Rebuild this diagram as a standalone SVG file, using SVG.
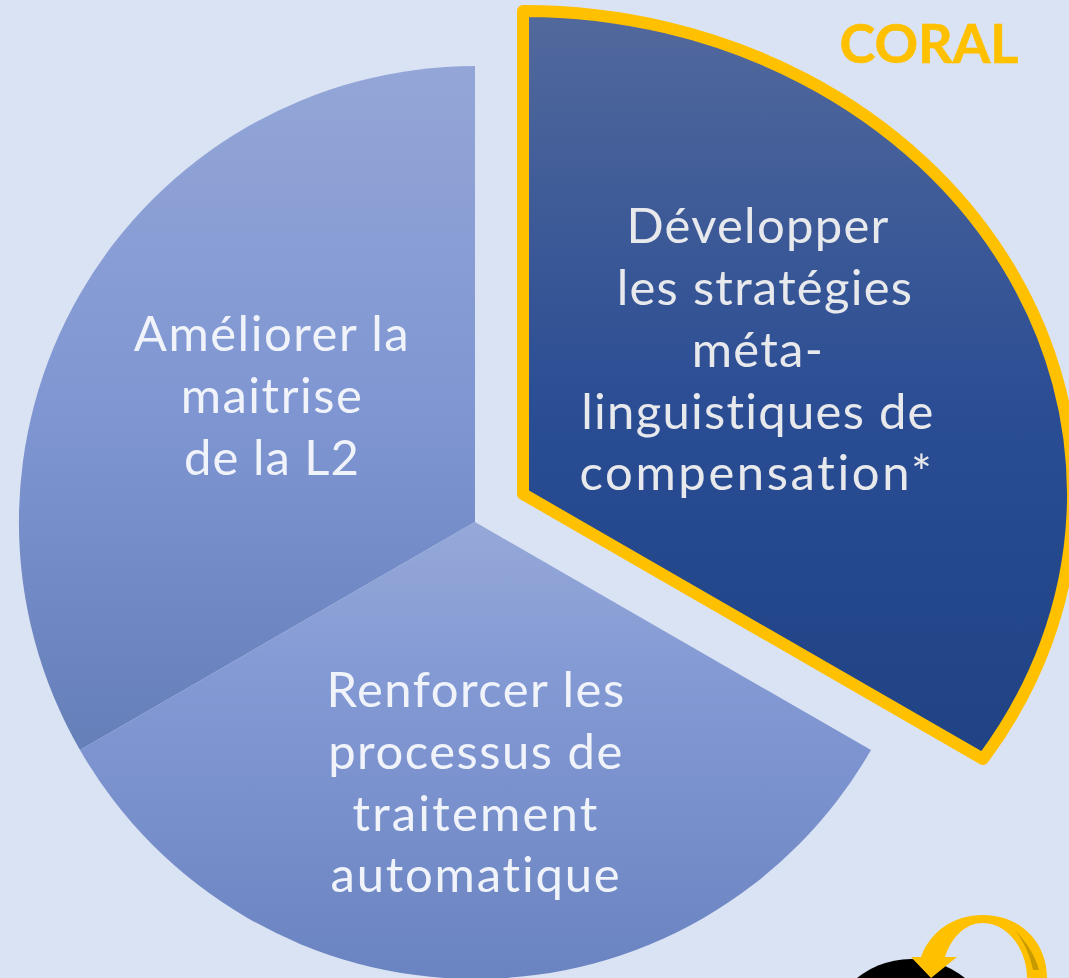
<svg xmlns="http://www.w3.org/2000/svg" width="1069" height="978" viewBox="0 0 1069 978">
<style>
.t{font-family:"Lato","Open Sans",sans-serif;font-size:49px;letter-spacing:1.5px;font-variant-ligatures:none;text-anchor:middle;fill:#f0f3fa}
.d{fill:#e8e9ec;letter-spacing:1.25px}
</style>
<defs>
<linearGradient id="gl" x1="0" y1="0" x2="0" y2="1"><stop offset="0" stop-color="#94a6d7"/><stop offset="0.5" stop-color="#7f96d2"/><stop offset="1" stop-color="#657fb9"/></linearGradient>
<linearGradient id="gb" x1="0" y1="0" x2="0" y2="1"><stop offset="0" stop-color="#95a8d8"/><stop offset="0.35" stop-color="#8399d4"/><stop offset="1" stop-color="#6a84c1"/></linearGradient>
<linearGradient id="gr" x1="0" y1="0" x2="0" y2="1"><stop offset="0" stop-color="#52699c"/><stop offset="0.55" stop-color="#294c93"/><stop offset="1" stop-color="#1f4384"/></linearGradient>
</defs>
<rect width="1069" height="978" fill="#dae3f3"/>
<g id="slice-left">
<path d="M475 66A456 456 0 0 0 80 750L475 522Z" fill="url(#gl)"/>
<text class="t" x="272" y="351">Améliorer la</text>
<text class="t" x="272" y="413">maitrise</text>
<text class="t" x="272" y="475" style="letter-spacing:1px">de la L2</text>
</g>
<g id="slice-bottom">
<path d="M475 522L80 750A456 456 0 0 0 871 750Z" fill="url(#gb)"/>
<text class="t" x="476" y="707">Renforcer les</text>
<text class="t" x="476" y="769">processus de</text>
<text class="t" x="476" y="831" style="letter-spacing:2.2px">traitement</text>
<text class="t" x="476" y="892" style="letter-spacing:1.8px">automatique</text>
</g>
<g id="slice-right">
<path d="M523 11A549 483 0 0 1 983 759L523 494Z" fill="url(#gr)" stroke="#ffc000" stroke-width="12" stroke-linejoin="round"/>
<text class="t d" x="758" y="243">Développer</text>
<text class="t d" x="765" y="305">les stratégies</text>
<text class="t d" x="758" y="367">méta-</text>
<text class="t d" x="758" y="429">linguistiques de</text>
<text class="t d" x="757" y="490" style="letter-spacing:2.6px">compensation*</text>
</g>
<g id="coral"><text x="929" y="63" font-family="Lato,'Open Sans',sans-serif" font-size="54" font-weight="700" fill="#ffc000" stroke="#ffc000" stroke-width="0.6" text-anchor="middle">CORAL</text></g>
<g id="cycle-icon">
<circle cx="911" cy="1045" r="86" fill="#000"/>
<path d="M1047 978C1047 942 1020 915 983 915C953 915 930 932 921 957L911 957L931 978L957 957L945 957C952 936 966 923 983 923C1008 923 1027 950 1027 978Z" fill="#ffc000"/>
<path d="M1015 930C1026 942 1035 955 1039 970L1033 970C1030 955 1024 942 1015 930Z" fill="#c79a00"/>
</g>
</svg>
